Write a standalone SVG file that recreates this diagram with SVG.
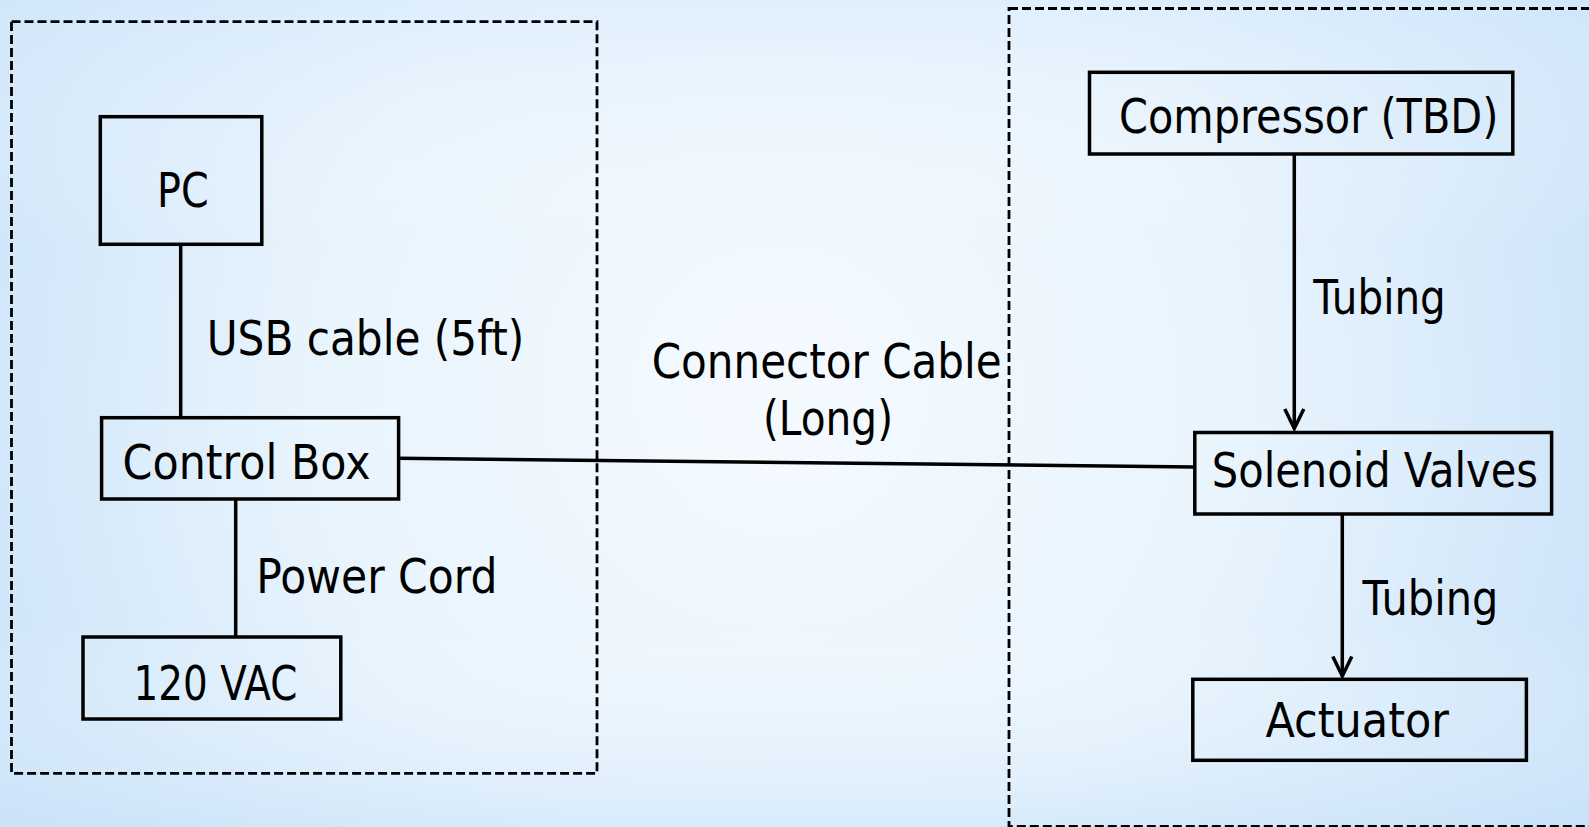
<svg xmlns="http://www.w3.org/2000/svg" width="1589" height="827" viewBox="0 0 1589 827">
  <defs>
    <radialGradient id="bg" cx="780" cy="390" r="950" gradientUnits="userSpaceOnUse">
      <stop offset="0" stop-color="#f5faff"/>
      <stop offset="0.5" stop-color="#e8f4fd"/>
      <stop offset="1" stop-color="#c6e0f8"/>
    </radialGradient>
    <linearGradient id="bg2" x1="0" y1="0" x2="0" y2="1">
      <stop offset="0" stop-color="#d6eafc" stop-opacity="0.5"/>
      <stop offset="0.3" stop-color="#ffffff" stop-opacity="0"/>
      <stop offset="0.75" stop-color="#ffffff" stop-opacity="0"/>
      <stop offset="1" stop-color="#c8e2f9" stop-opacity="0.5"/>
    </linearGradient>
    <marker id="arrow" viewBox="0 0 24 24" refX="21" refY="12" markerWidth="24" markerHeight="24" markerUnits="userSpaceOnUse" orient="auto">
      <path d="M1.5 2.5 L21 12 L1.5 21.5" fill="none" stroke="#000" stroke-width="3.5" stroke-linejoin="miter"/>
    </marker>
    <style>
      .group { fill: none; stroke: #000; stroke-width: 2.8; stroke-dasharray: 9 4; }
      .box { fill: none; stroke: #000; stroke-width: 3.5; }
      .conn { fill: none; stroke: #000; stroke-width: 3.5; }
      text { font-family: "DejaVu Sans", "Liberation Sans", sans-serif; font-size: 48px; fill: #000; }
    </style>
  </defs>

  <rect x="0" y="0" width="1589" height="827" fill="url(#bg)"/>
  <rect x="0" y="0" width="1589" height="827" fill="url(#bg2)"/>

  <g id="group-left"><rect class="group" x="11.5" y="21.7" width="585.5" height="751.6"/></g>
  <g id="group-right"><rect class="group" x="1009" y="8.5" width="620" height="817.8"/></g>

  <g id="connectors">
    <line class="conn" x1="180.7" y1="244.3" x2="180.7" y2="417.7"/>
    <line class="conn" x1="235.7" y1="499" x2="235.7" y2="637"/>
    <line class="conn" x1="398.6" y1="458.3" x2="1194.8" y2="467"/>
    <line class="conn" x1="1294.3" y1="154" x2="1294.3" y2="428.5" marker-end="url(#arrow)"/>
    <line class="conn" x1="1342.3" y1="514" x2="1342.3" y2="676" marker-end="url(#arrow)"/>
    <text x="206.7" y="355" textLength="317.6" lengthAdjust="spacingAndGlyphs">USB cable (5ft)</text>
    <text x="256.2" y="593.3" textLength="241.2" lengthAdjust="spacingAndGlyphs">Power Cord</text>
    <text x="651.7" y="378.3" textLength="350" lengthAdjust="spacingAndGlyphs">Connector Cable</text>
    <text x="763" y="435" textLength="130" lengthAdjust="spacingAndGlyphs">(Long)</text>
    <text x="1313.3" y="314.3" textLength="132.4" lengthAdjust="spacingAndGlyphs">Tubing</text>
    <text x="1362.5" y="615" textLength="135.9" lengthAdjust="spacingAndGlyphs">Tubing</text>
  </g>

  <g id="node-pc">
    <rect class="box" x="100.3" y="116.7" width="161.5" height="127.6"/>
    <text x="157" y="206.7" textLength="51.6" lengthAdjust="spacingAndGlyphs">PC</text>
  </g>
  <g id="node-control-box">
    <rect class="box" x="101.6" y="417.7" width="297" height="81.3"/>
    <text x="122.6" y="479.3" textLength="247.9" lengthAdjust="spacingAndGlyphs">Control Box</text>
  </g>
  <g id="node-120vac">
    <rect class="box" x="83" y="637" width="257.8" height="82"/>
    <text x="133.6" y="700" textLength="163.7" lengthAdjust="spacingAndGlyphs">120 VAC</text>
  </g>
  <g id="node-compressor">
    <rect class="box" x="1089.5" y="72.3" width="423.3" height="81.7"/>
    <text x="1119" y="133.3" textLength="379.4" lengthAdjust="spacingAndGlyphs">Compressor (TBD)</text>
  </g>
  <g id="node-solenoid">
    <rect class="box" x="1194.8" y="432.5" width="356.8" height="81.5"/>
    <text x="1211.8" y="486.7" textLength="326.2" lengthAdjust="spacingAndGlyphs">Solenoid Valves</text>
  </g>
  <g id="node-actuator">
    <rect class="box" x="1192.8" y="679.3" width="333.6" height="81"/>
    <text x="1265.4" y="736.7" textLength="183.6" lengthAdjust="spacingAndGlyphs">Actuator</text>
  </g>
</svg>
